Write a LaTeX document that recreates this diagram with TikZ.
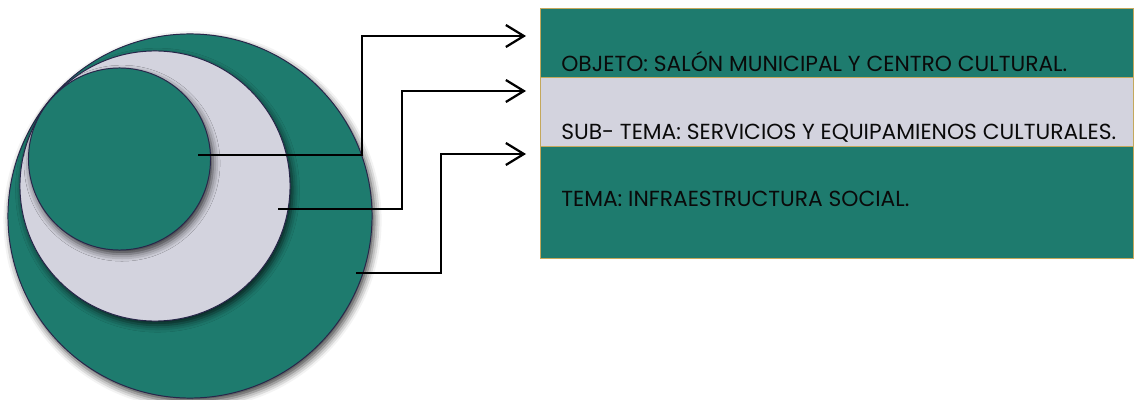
\documentclass[tikz,border=0pt]{standalone}
\usepackage{fontspec}
\setmainfont{Poppins}
\usetikzlibrary{arrows.meta, shadows.blur}
\definecolor{temaverde}{RGB}{30,123,110}
\definecolor{subgris}{RGB}{211,211,222}
\definecolor{borde}{RGB}{40,38,74}
\definecolor{dorado}{RGB}{196,168,92}
\definecolor{texto}{RGB}{10,10,10}
\tikzset{
  capa/.style={circle, draw=borde, line width=0.7pt, inner sep=0pt,
    blur shadow={shadow xshift=1.8pt, shadow yshift=-3pt, shadow blur radius=5pt, shadow opacity=75}},
  franja/.style={draw=dorado, line width=0.6pt, anchor=north west, inner sep=0pt, minimum width=14.825cm},
  flecha/.style={line width=1.6pt, -{Straight Barb[length=4.5mm, width=5.5mm]}},
  rotulo/.style={anchor=base west, font=\fontsize{15.5}{18}\selectfont, text=texto, inner sep=0pt}
}
\begin{document}
\begin{tikzpicture}[x=0.025cm, y=-0.025cm]
  \useasboundingbox (0,0) rectangle (1134,400);

  % Circulos
  \node[capa, fill=temaverde, minimum size=9.1cm] (tema) at (190,216) {};
  \node[capa, fill=subgris, minimum size=6.75cm] (subtema) at (155,186) {};
  \node[capa, fill=temaverde, minimum size=4.55cm] (objeto) at (119.5,159) {};

  % Franjas
  \node[franja, fill=temaverde, minimum height=1.725cm] (objbox) at (540,8) {};
  \node[franja, fill=subgris, minimum height=1.725cm] (subbox) at (540,77) {};
  \node[franja, fill=temaverde, minimum height=2.8cm] (temabox) at (540,146) {};

  \node[rotulo] (objtxt) at (561,72) {OBJETO: SALÓN MUNICIPAL Y CENTRO CULTURAL.};
  \node[rotulo] (subtxt) at (561,140) {SUB- TEMA: SERVICIOS Y EQUIPAMIENOS CULTURALES.};
  \node[rotulo] (tematxt) at (561,207) {TEMA: INFRAESTRUCTURA SOCIAL.};

  % Conectores
  \coordinate (objin) at (198,155);
  \coordinate (objcodo) at (362,36);
  \coordinate (objfin) at (526,36);
  \coordinate (subin) at (278,209);
  \coordinate (subcodo) at (402,91);
  \coordinate (subfin) at (526,91);
  \coordinate (temain) at (356,273);
  \coordinate (temacodo) at (441,154);
  \coordinate (temafin) at (526,154);

  \draw[flecha] (objin) -| (objcodo) -- (objfin);
  \draw[flecha] (subin) -| (subcodo) -- (subfin);
  \draw[flecha] (temain) -| (temacodo) -- (temafin);
\end{tikzpicture}
\end{document}
